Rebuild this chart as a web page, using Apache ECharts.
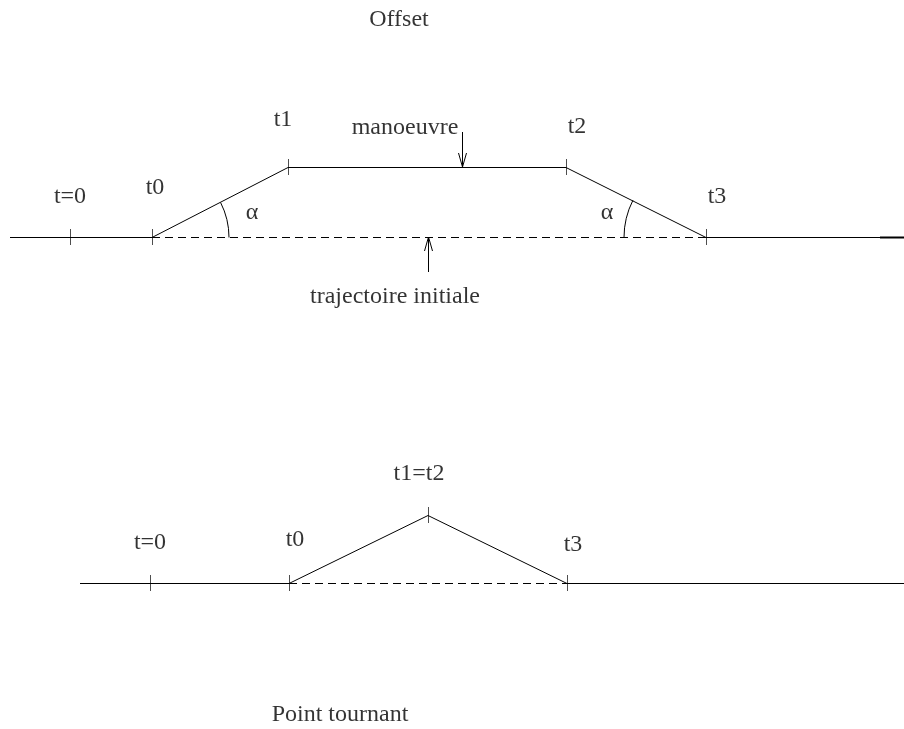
<!DOCTYPE html>
<html>
<head>
<meta charset="utf-8">
<script src="https://cdn.jsdelivr.net/npm/echarts@6/dist/echarts.min.js"></script>
<style>html,body{margin:0;padding:0;background:#fff}#c{width:904px;height:729px}</style>
</head>
<body>
<div id="c"></div>
<script>
// Diagram coordinates (x to the right, y downward, in diagram units)
const topSolid = [[10,237.5],[152,237.5],[288,167.5],[566,167.5],[706,237.5],[904,237.5]];
const topEndSegment = [[880,237.5],[904,237.5]];
const topDashed = [[152,237.5],[706,237.5]];
const botSolid = [[80,583.5],[289,583.5],[428,515.5],[567,583.5],[904,583.5]];
const botDashed = [[289,583.5],[567,583.5]];
const tickMarks = [[70.5,237],[152.5,237],[288.5,167],[566.5,167],[706.5,237],[150.5,583],[289.5,583],[428.5,515],[567.5,583]];
const labelX = [399, 70, 155, 283, 405, 577, 717, 252, 607, 395, 150, 295, 419, 573, 340];
const labelY = [20, 197, 188, 120, 128, 127, 197, 213, 213, 297, 543, 540, 474, 545, 715];
const labelText = ['Offset','t=0','t0','t1','manoeuvre','t2','t3','α','α','trajectoire initiale','t=0','t0','t1=t2','t3','Point tournant'];
// arcs: centre x, centre y, radius, start angle (deg), end angle (deg), screen angles
const angleArcs = [[152,237.5,77,-27,0],[706,237.5,82,180,207]];
// arrows: x, tail y, head y
const arrows = [[462.5,132,167],[428.5,272,237]];

const lineStyle = {color:'#000', width:1};
const chart = echarts.init(document.getElementById('c'), null, {renderer:'canvas'});
chart.setOption({
  animation:false,
  backgroundColor:'#fff',
  grid:{left:0,right:0,top:0,bottom:0},
  xAxis:{type:'value',min:0,max:904,show:false},
  yAxis:{type:'value',min:0,max:729,inverse:true,show:false},
  series:[
    {type:'line',data:topSolid,symbol:'none',lineStyle:lineStyle},
    {type:'line',data:topEndSegment,symbol:'none',lineStyle:{color:'#000',width:2}},
    {type:'line',data:topDashed,symbol:'none',lineStyle:{color:'#000',width:1,type:[8,5]}},
    {type:'line',data:botSolid,symbol:'none',lineStyle:lineStyle},
    {type:'line',data:botDashed,symbol:'none',lineStyle:{color:'#000',width:1,type:[8,5]}},
    {type:'scatter',data:tickMarks,symbol:'rect',symbolSize:[1,16],itemStyle:{color:'#222'}},
    {type:'custom',data:angleArcs,renderItem:function(params,api){
      const c = api.coord([api.value(0),api.value(1)]);
      const r = api.size([api.value(2),0])[0];
      return {type:'arc',shape:{cx:c[0],cy:c[1],r:r,startAngle:api.value(3)*Math.PI/180,endAngle:api.value(4)*Math.PI/180,clockwise:true},
        style:{stroke:'#000',lineWidth:1,fill:null}};
    }},
    {type:'custom',data:arrows,renderItem:function(params,api){
      const t = api.coord([api.value(0),api.value(1)]);
      const h = api.coord([api.value(0),api.value(2)]);
      const dir = h[1] > t[1] ? -1 : 1;
      return {type:'group',children:[
        {type:'line',shape:{x1:t[0],y1:t[1],x2:h[0],y2:h[1]},style:{stroke:'#000',lineWidth:1}},
        {type:'polyline',shape:{points:[[h[0]-4,h[1]+dir*14],[h[0],h[1]],[h[0]+4,h[1]+dir*14]]},style:{stroke:'#000',lineWidth:1,fill:null}}
      ]};
    }},
    {type:'scatter',symbolSize:0,
      data:labelText.map((t,i)=>({value:[labelX[i],labelY[i]],name:t})),
      label:{show:true,position:'inside',formatter:'{b}',color:'#000',fontFamily:'Liberation Serif',fontSize:24}}
  ]
});
</script>
</body>
</html>
